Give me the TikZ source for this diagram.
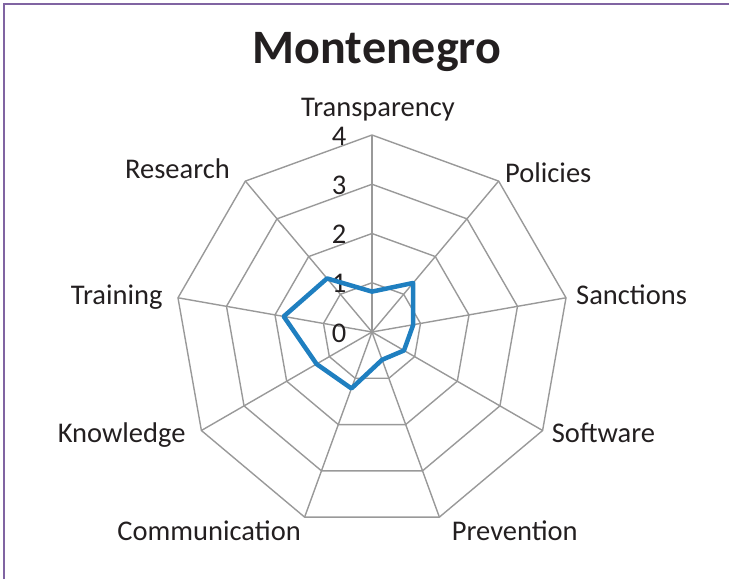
\documentclass[tikz,border=0pt]{standalone}
\usepackage{fontspec}
\setmainfont{Carlito}
\usepackage{tikz}
\usetikzlibrary{positioning}

\definecolor{gridgray}{RGB}{153,153,153}
\definecolor{seriesblue}{RGB}{31,127,192}
\definecolor{framepurple}{RGB}{128,100,162}
\definecolor{inkdark}{RGB}{35,31,32}

\tikzset{
  gridline/.style={draw=gridgray, line width=1.4pt},
  series/.style={draw=seriesblue, line width=4.5pt, line join=round},
  axislabel/.style={inner sep=0pt, text=inkdark, font=\fontsize{28.5}{34}\selectfont},
  ticklabel/.style={inner sep=0pt, anchor=east, text=inkdark, font=\fontsize{28.5}{34}\selectfont}
}

\begin{document}
\begin{tikzpicture}[x=1pt, y=1pt]
  \def\u{49.25}
  \useasboundingbox (-372,-247) rectangle (357,332);

  % frame
  \draw[framepurple, line width=2pt] (-368,-247) -- (-368,328) -- (357,328);

  % title
  \node[anchor=base, inner sep=0pt, text=inkdark, font=\fontsize{48}{56}\selectfont\bfseries] (title) at (5,268.7) {Montenegro};

  % rings and spokes
  \foreach \k in {1,...,4}
    \draw[gridline] (90:\k*\u) \foreach \i in {1,...,8}{ -- (90-40*\i:\k*\u)} -- cycle;
  \foreach \i in {0,...,8}
    \draw[gridline] (0,0) -- (90-40*\i:4*\u);

  % values
  \foreach \k in {0,...,4}
    \node[ticklabel] (tick\k) at (-25.5,\k*\u-1) {\k};

  % axis names
  \node[axislabel, anchor=base] (transparency) at (6,215.3) {Transparency};
  \node[axislabel, anchor=base west] (policies) at (133,149.7) {Policies};
  \node[axislabel, anchor=base west] (sanctions) at (204,28) {Sanctions};
  \node[axislabel, anchor=base west] (software) at (179.7,-110.7) {Software};
  \node[axislabel, anchor=base west] (prevention) at (79.7,-208.7) {Prevention};
  \node[axislabel, anchor=base east] (communication) at (-71,-208.7) {Communication};
  \node[axislabel, anchor=base east] (knowledge) at (-186.3,-110.7) {Knowledge};
  \node[axislabel, anchor=base east] (training) at (-209.3,27.7) {Training};
  \node[axislabel, anchor=base east] (research) at (-142,153.7) {Research};

  % Montenegro series
  \draw[series] (90:0.82*\u) -- (50:1.3*\u) -- (10:0.85*\u) -- (-30:0.75*\u)
    -- (-70:0.6*\u) -- (-110:1.22*\u) -- (-150:1.3*\u) -- (170:1.82*\u)
    -- (130:1.42*\u) -- cycle;
\end{tikzpicture}
\end{document}
